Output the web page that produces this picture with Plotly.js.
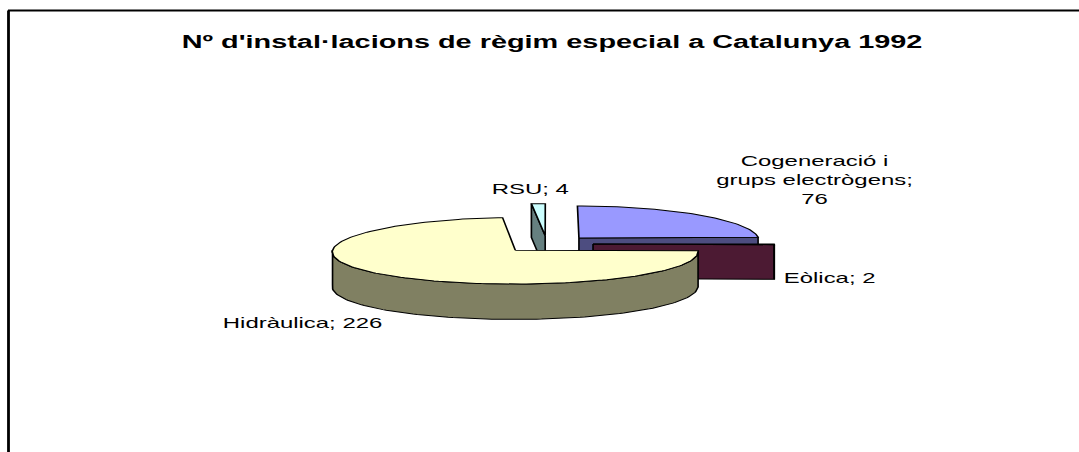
<!DOCTYPE html>
<html>
<head>
<meta charset="utf-8">
<script src="https://cdn.plot.ly/plotly-3.0.1.min.js"></script>
<style>
  html, body { margin: 0; padding: 0; background: #ffffff; }
  #wrap { width: 1079px; height: 452px; overflow: hidden; position: relative; background: #ffffff; }
  #chart { height: 452px; transform-origin: 0 0; }
</style>
</head>
<body>
<div id="wrap"><div id="chart"></div></div>
<script>
// ---- data ----
const categories = ['Cogeneració i grups electrògens', 'Eòlica', 'Hidràulica', 'RSU'];
const values = [76, 2, 226, 4];
const chartTitle = "Nº d'instal·lacions de règim especial a Catalunya 1992";

// ---- styles ----
const topColors = ['#9999FF', '#993366', '#FFFFCC', '#CCFFFF'];
const sideColors = ['#4D4D80', '#4C1A33', '#808062', '#668080'];
const FONT = 'Liberation Sans, Arial, Helvetica, sans-serif';

// horizontal stretch of the whole picture (the reference is stretched)
const K = 1.65;
const W = 1079 / K;
const chartDiv = document.getElementById('chart');
chartDiv.style.width = W + 'px';
chartDiv.style.transform = 'scaleX(' + K + ')';

// ---- 3D pie geometry (pixel space of the final picture) ----
const G = { cx: 547, cy: 244, rx: 181, ry: 33, px: 0.05, p: 0.02, depth: 34.5, explode: 0.254 };
function proj(u, v, h) {
  const sx = 1 / (1 + G.px * v);
  const s = 1 / (1 + G.p * v);
  return [G.cx + G.rx * u * sx, G.cy - G.ry * v * s + h * G.depth * s];
}

const total = values.reduce((a, b) => a + b, 0);
const slices = [];
let acc = 0;
values.forEach((val, i) => {
  const a1 = acc / total * 2 * Math.PI;
  const a2 = (acc + val) / total * 2 * Math.PI;
  acc += val;
  const mid = (a1 + a2) / 2;
  slices.push({ i, a1, a2, u0: G.explode * Math.sin(mid), v0: G.explode * Math.cos(mid) });
});

function pt(sl, a, r, h) {
  return proj(sl.u0 + r * Math.sin(a), sl.v0 + r * Math.cos(a), h);
}
function arc(sl, from, to, h) {
  const n = Math.max(2, Math.ceil(Math.abs(to - from) / (2 * Math.PI) * 240));
  const out = [];
  for (let k = 0; k <= n; k++) out.push(pt(sl, from + (to - from) * k / n, 1, h));
  return out;
}
function poly(points, fill) {
  return {
    type: 'scatter', mode: 'lines',
    x: points.map(q => q[0]), y: points.map(q => q[1]),
    fill: 'toself', fillcolor: fill,
    line: { color: '#000000', width: 1 },
    hoverinfo: 'skip', showlegend: false
  };
}

const traces = [];
slices.slice().sort((a, b) => b.v0 - a.v0).forEach(sl => {
  const i = sl.i;
  const apexT = pt(sl, 0, 0, 0), apexB = pt(sl, 0, 0, 1);
  // radial faces facing the viewer
  if (Math.sin(sl.a1) < -1e-9) {
    traces.push(poly([apexT, pt(sl, sl.a1, 1, 0), pt(sl, sl.a1, 1, 1), apexB, apexT], sideColors[i]));
  }
  if (Math.sin(sl.a2) > 1e-9) {
    traces.push(poly([apexT, pt(sl, sl.a2, 1, 0), pt(sl, sl.a2, 1, 1), apexB, apexT], sideColors[i]));
  }
  // outer curved side (front half)
  const lo = Math.max(sl.a1, Math.PI / 2), hi = Math.min(sl.a2, 3 * Math.PI / 2);
  if (hi > lo) {
    const top = arc(sl, lo, hi, 0), bot = arc(sl, hi, lo, 1);
    traces.push(poly(top.concat(bot, [top[0]]), sideColors[i]));
  }
  // top face
  traces.push(poly([apexT].concat(arc(sl, sl.a1, sl.a2, 0), [apexT]), topColors[i]));
});

// ---- labels ----
function wrap(text, maxLen) {
  const words = text.split(' ');
  const lines = [];
  let cur = '';
  words.forEach(w => {
    const cand = cur ? cur + ' ' + w : w;
    if (cand.length > maxLen && cur) { lines.push(cur); cur = w; } else cur = cand;
  });
  if (cur) lines.push(cur);
  return lines.join('<br>');
}
const labelAnchors = [[814, 180], [830, 278], [303, 323], [530, 189]];
const annotations = categories.map((c, i) => ({
  x: labelAnchors[i][0], y: labelAnchors[i][1], xref: 'x', yref: 'y',
  text: wrap(c + '; ' + values[i], 18),
  showarrow: false, xanchor: 'center', yanchor: 'middle', align: 'center',
  font: { family: FONT, size: 14.5, color: '#000000' }
}));

const layout = {
  width: W, height: 452,
  margin: { l: 0, r: 0, t: 0, b: 0, pad: 0 },
  paper_bgcolor: '#ffffff', plot_bgcolor: '#ffffff',
  showlegend: false,
  title: {
    text: '<b>' + chartTitle + '</b>',
    font: { family: FONT, size: 17.5, color: '#000000' },
    x: 552 / 1079, xanchor: 'center', xref: 'paper',
    y: 1 - 42 / 452, yanchor: 'middle', yref: 'container'
  },
  xaxis: { range: [0, 1079], visible: false, fixedrange: true },
  yaxis: { range: [452, 0], visible: false, fixedrange: true },
  shapes: [
    { type: 'line', xref: 'x', yref: 'y', x0: 8, y0: 10.5, x1: 1079, y1: 10.5, line: { color: '#000000', width: 2 } },
    { type: 'line', xref: 'x', yref: 'y', x0: 8.5, y0: 10.5, x1: 8.5, y1: 452, line: { color: '#000000', width: 1.7 } }
  ],
  annotations: annotations
};

Plotly.newPlot(chartDiv, traces, layout, { staticPlot: true, displayModeBar: false });
</script>
</body>
</html>
